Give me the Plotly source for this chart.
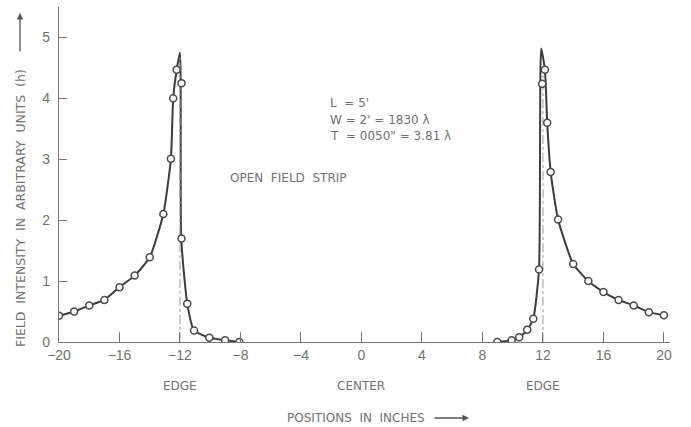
import plotly.graph_objects as go

# Measured field intensity, left edge of the strip (inches, arbitrary units)
left_x = [-20, -19, -18, -17, -16, -15, -14, -13.1, -12.6, -12.45, -12.22, -11.9, -11.9, -11.52, -11.07, -10.06, -9.02, -8.08]
left_y = [0.43, 0.50, 0.60, 0.69, 0.90, 1.09, 1.39, 2.10, 3.01, 4.0, 4.47, 4.25, 1.70, 0.63, 0.19, 0.07, 0.03, 0.0]

# Faired curve through the left-edge readings, including the peak at the edge
left_curve_x = [-20, -19, -18, -17, -16, -15, -14, -13.1, -12.6, -12.45, -12.22, -12.0, -11.92, -11.52, -11.07, -10.06, -9.02, -8.08]
left_curve_y = [0.43, 0.50, 0.60, 0.69, 0.90, 1.09, 1.39, 2.10, 3.01, 4.0, 4.47, 4.75, 1.70, 0.63, 0.19, 0.07, 0.03, 0.0]

# Measured field intensity, right edge of the strip
right_x = [8.98, 9.93, 10.43, 10.96, 11.36, 11.74, 11.95, 12.13, 12.28, 12.51, 13.0, 14, 15, 16, 17, 18, 19, 20]
right_y = [0.0, 0.03, 0.08, 0.20, 0.38, 1.19, 4.24, 4.47, 3.60, 2.79, 2.01, 1.28, 1.00, 0.82, 0.69, 0.60, 0.49, 0.44]

# Faired curve through the right-edge readings
right_curve_x = [8.98, 9.93, 10.43, 10.96, 11.36, 11.74, 11.88, 12.13, 12.28, 12.51, 13.0, 14, 15, 16, 17, 18, 19, 20]
right_curve_y = [0.0, 0.03, 0.08, 0.20, 0.38, 1.19, 4.82, 4.47, 3.60, 2.79, 2.01, 1.28, 1.00, 0.82, 0.69, 0.60, 0.49, 0.44]

# Strip edge positions and the height of their reference lines
edge_x = [-12, 12]
edge_top = [4.7, 4.5]

x_ticks = [-20, -16, -12, -8, -4, 0, 4, 8, 12, 16, 20]
x_tick_text = ["−20", "−16", "−12", "−8", "−4", "0", "4", "8", "12", "16", "20"]
y_ticks = [0, 1, 2, 3, 4, 5]

INK = "#3c3c3c"
TEXT = "#727272"
FONT = "DejaVu Sans"
TICK_FONT = "Liberation Sans"

fig = go.Figure()

for cx, cy in [(left_curve_x, left_curve_y), (right_curve_x, right_curve_y)]:
    fig.add_trace(go.Scatter(x=cx, y=cy, mode="lines",
                             line=dict(color=INK, width=2, shape="spline", smoothing=0.5),
                             hoverinfo="skip", showlegend=False))

for ex, et in zip(edge_x, edge_top):
    fig.add_trace(go.Scatter(x=[ex, ex], y=[0, et], mode="lines",
                             line=dict(color="#9a9a9a", width=1, dash="dashdot"),
                             hoverinfo="skip", showlegend=False))

for px, py in [(left_x, left_y), (right_x, right_y)]:
    fig.add_trace(go.Scatter(x=px, y=py, mode="markers",
                             marker=dict(symbol="circle", size=7, color="white",
                                         line=dict(color="#4a4a4a", width=1.5)),
                             showlegend=False))

fig.update_xaxes(range=[-20, 20.4], tickvals=x_ticks, ticktext=x_tick_text,
                 ticks="inside", ticklen=10, tickcolor="#777", tickwidth=1,
                 showline=True, linecolor="#777", linewidth=1.2,
                 showgrid=False, zeroline=False,
                 tickfont=dict(family=TICK_FONT, size=14, color=TEXT))
fig.update_yaxes(range=[0, 5.5], tickvals=y_ticks,
                 ticks="inside", ticklen=8, tickcolor="#777", tickwidth=1,
                 showline=True, linecolor="#777", linewidth=1.2,
                 showgrid=False, zeroline=False, ticklabelstandoff=5,
                 tickfont=dict(family=TICK_FONT, size=14, color=TEXT))

annotations = [
    dict(x=-12, y=0, yshift=-44, text="EDGE", xref="x", yref="y"),
    dict(x=0, y=0, yshift=-44, text="CENTER", xref="x", yref="y"),
    dict(x=12, y=0, yshift=-44, text="EDGE", xref="x", yref="y"),
    dict(x=-8.8, y=2.7, xanchor="left", text="OPEN  FIELD  STRIP", xref="x", yref="y"),
    dict(x=-2.2, y=3.93, xanchor="left", text="L  = 5'", xref="x", yref="y"),
    dict(x=-2.2, y=3.65, xanchor="left", text="W = 2' = 1830 λ", xref="x", yref="y"),
    dict(x=-2.2, y=3.38, xanchor="left", text="T  = 0050\" = 3.81 λ", xref="x", yref="y"),
    dict(x=0.602, y=0, yshift=-76, yref="paper", xref="paper", xanchor="right",
         yanchor="middle", text="POSITIONS  IN  INCHES"),
    dict(x=0, y=0.40, xref="paper", yref="paper", textangle=-90, xanchor="center",
         yanchor="middle", text="FIELD  INTENSITY  IN  ARBITRARY  UNITS  (h)", xshift=-39,
         font_size=12.5),
]
for a in annotations:
    a.setdefault("showarrow", False)
    size = a.pop("font_size", 12)
    a["font"] = dict(family=FONT, size=size, color=TEXT)
    fig.add_annotation(**a)

# Direction arrows next to the axis titles
fig.add_annotation(x=0.671, y=0, xref="paper", yref="paper", yshift=-76, ax=-36, ay=0,
                   text="", showarrow=True, arrowhead=2, arrowsize=1, arrowwidth=1.3,
                   arrowcolor="#555")
fig.add_annotation(x=0, y=0.982, xref="paper", yref="paper", xshift=-39, ax=0, ay=40,
                   text="", showarrow=True, arrowhead=2, arrowsize=1, arrowwidth=1.3,
                   arrowcolor="#555")

fig.update_layout(width=691, height=427, margin=dict(l=59, r=21, t=7, b=85),
                  paper_bgcolor="white", plot_bgcolor="white", showlegend=False)

fig.write_html("out.html")
